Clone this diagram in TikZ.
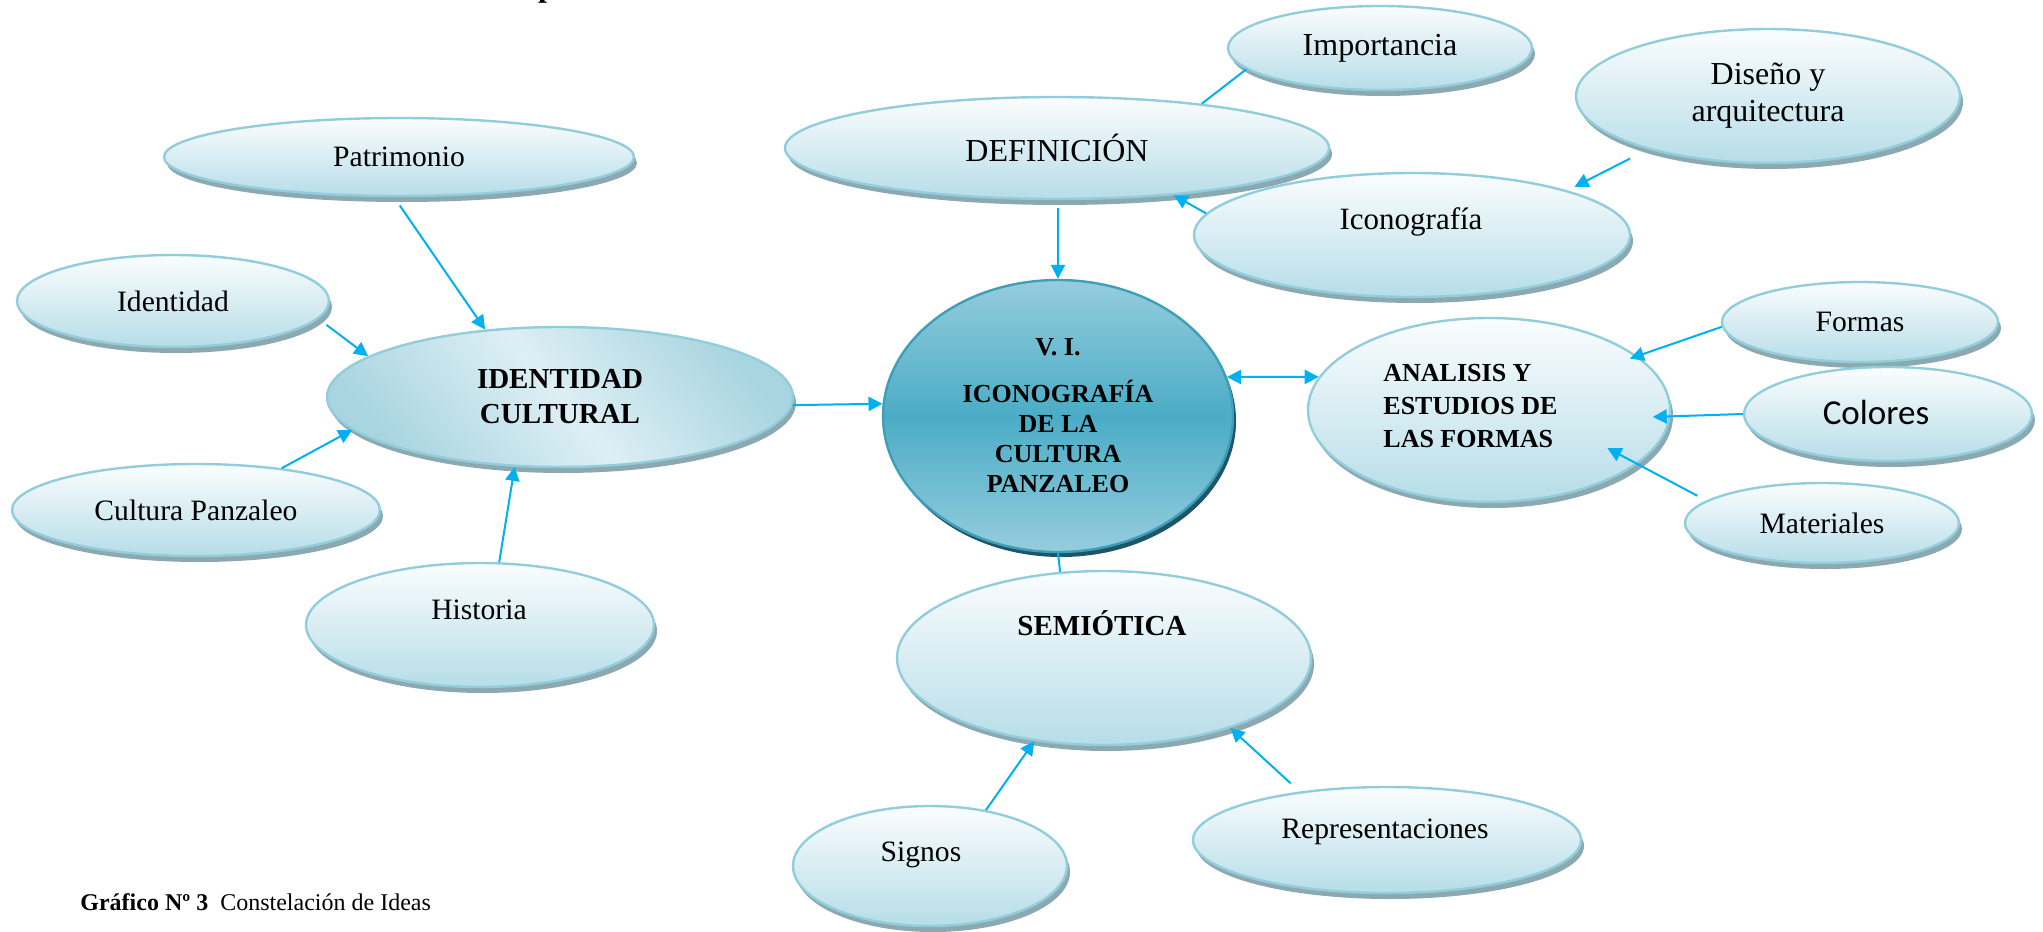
\documentclass[tikz,border=0pt]{standalone}
\usepackage{fontspec}
\setmainfont{Liberation Serif}
\newfontfamily\calibrifont{Carlito}
\usepackage{tikz}
\usetikzlibrary{shapes.geometric, arrows.meta, shadows}

\definecolor{bubbletop}{HTML}{FBFDFE}
\definecolor{bubblebot}{HTML}{B6DDE8}
\definecolor{bubbleedge}{HTML}{92CDDC}
\definecolor{bubbleshadow}{HTML}{8CA8B1}
\definecolor{idcdark}{HTML}{A9D5E1}
\definecolor{idclight}{HTML}{DDEFF4}
\definecolor{hubtop}{HTML}{95CDDD}
\definecolor{hubmid}{HTML}{4BACC6}
\definecolor{hubedge}{HTML}{3E9FB9}
\definecolor{hubshadow}{HTML}{1F5566}
\definecolor{linkblue}{HTML}{00B0F0}

\begin{document}
\begin{tikzpicture}[x=0.5pt,y=-0.5pt,>={Triangle[length=7pt,width=7pt]},
        wh/.style 2 args={minimum width=#1pt,minimum height=#2pt},
        bubble/.style={ellipse,draw=bubbleedge,line width=1.2pt,inner sep=0pt,
            top color=bubbletop,bottom color=bubblebot,
            drop shadow={shadow xshift=1.5pt,shadow yshift=-3pt,fill=bubbleshadow,opacity=1},
            font=\fontsize{14.8}{18}\selectfont,align=center},
        hub/.style={ellipse,draw=hubedge,line width=1.2pt,inner sep=0pt,
            top color=hubtop,bottom color=hubtop,middle color=hubmid,
            drop shadow={shadow xshift=1.5pt,shadow yshift=-2.5pt,fill=hubshadow,opacity=1},
            font=\bfseries\fontsize{13}{15}\selectfont,align=center},
        tag/.style={font=\fontsize{14.8}{18}\selectfont,inner sep=0pt,align=center},
        heading/.style={font=\bfseries\fontsize{14.5}{17.5}\selectfont,inner sep=0pt,align=center},
        link/.style={->,draw=linkblue,line width=1pt},
        tie/.style={draw=linkblue,line width=1pt}]

    \useasboundingbox (0,0) rectangle (2043,931);

    % cut off title line
    \node[anchor=base,font=\bfseries\fontsize{16}{18}\selectfont] (cut) at (547,-3) {p};

    % left group
    \node[bubble,wh={235}{39}] (patri) at (399,157) {Patrimonio};
    \node[bubble,wh={156}{46}] (ident) at (173,301) {Identidad};
    \node[bubble,wh={233}{70},top color=idcdark,bottom color=idcdark,middle color=idclight,
        shading angle=-50,font=\bfseries\fontsize{14.5}{17.5}\selectfont] (idc) at (560,397) {IDENTIDAD\\CULTURAL};
    \node[bubble,wh={184}{46}] (cultpz) at (196,510) {Cultura Panzaleo};
    \node[bubble,wh={174}{62}] (hist) at (480,625) {};
    \node[tag] (histT) at (479,610) {Historia};

    % centre
    \node[hub,wh={175}{136}] (vi) at (1058,416) {V. I.\\[8.5pt]ICONOGRAFÍA\\DE LA\\CULTURA\\PANZALEO};

    % top group
    \node[bubble,wh={272}{51},font=\fontsize{16}{19}\selectfont] (defin) at (1057,148) {DEFINICIÓN};
    \node[bubble,wh={152}{42},font=\fontsize{16}{19}\selectfont] (impor) at (1380,48) {Importancia};
    \node[bubble,wh={192}{67},font=\fontsize{16}{18.5}\selectfont] (disen) at (1768,96) {Diseño y\\arquitectura};
    \node[bubble,wh={218}{62}] (icono) at (1412,235) {};
    \node[tag,font=\fontsize{15.5}{18.5}\selectfont] (iconoT) at (1411,222) {Iconografía};

    % right group
    \node[bubble,wh={181}{92}] (analis) at (1489,410) {};
    \node[heading,anchor=west,align=left,font=\bfseries\fontsize{13}{16.5}\selectfont] (analisT) at (1383,406) {ANALISIS Y\\ESTUDIOS DE\\LAS FORMAS};
    \node[bubble,wh={138}{40}] (formas) at (1860,322) {Formas};
    \node[bubble,wh={144}{47}] (colores) at (1888,414) {};
    \node[tag,font=\calibrifont\fontsize{17.5}{20}\selectfont] (coloresT) at (1876,412) {Colores};
    \node[bubble,wh={137}{40}] (mater) at (1822,523) {Materiales};

    % bottom group
    \node[bubble,wh={207}{87}] (semio) at (1104,658) {};
    \node[heading] (semioT) at (1102,623) {SEMIÓTICA};
    \node[bubble,wh={137}{60}] (signos) at (930,866) {};
    \node[tag] (signosT) at (921,855) {Signos};
    \node[bubble,wh={194}{53}] (repres) at (1387,840) {};
    \node[tag] (represT) at (1385,832) {Representaciones};

    % connectors
    \draw[link,shorten <=5pt] (patri.263) -- (idc.138);
    \draw[link,shorten <=5pt] (ident.353) -- (idc.168);
    \draw[link] (cultpz.26) -- (idc.189);
    \draw[link] (hist.73) -- (idc.237);
    \draw[link] (idc.-2.6) -- (vi.176);
    \draw[link,shorten <=4pt] (vi.north |- defin.south) -- (vi.north);
    \draw[tie] (impor.189) -- (defin.17);
    \draw[link] (icono.174) -- (defin.338);
    \draw[link,shorten <=10pt,shorten >=4pt] (disen.204) -- (icono.16);
    \draw[link,<->] (vi.13) -- (analis.169);
    \draw[link,shorten >=-4pt] (formas.182) -- (analis.20);
    \draw[link,shorten >=-9pt] (colores.west) -- (analis.-2);
    \draw[link,shorten <=5pt,shorten >=-17pt] (mater.169) -- (analis.340);
    \draw[tie] (vi.south) -- (semio.117);
    \draw[link] (signos.45) -- (semio.230);
    \draw[link,shorten <=6pt] (repres.151) -- (semio.331);

    % caption
    \node[anchor=base west,inner sep=0pt,font=\fontsize{12}{14}\selectfont] (caption) at (80,910)
        {\textbf{Gráfico Nº 3}\ \ Constelación de Ideas};
\end{tikzpicture}
\end{document}
